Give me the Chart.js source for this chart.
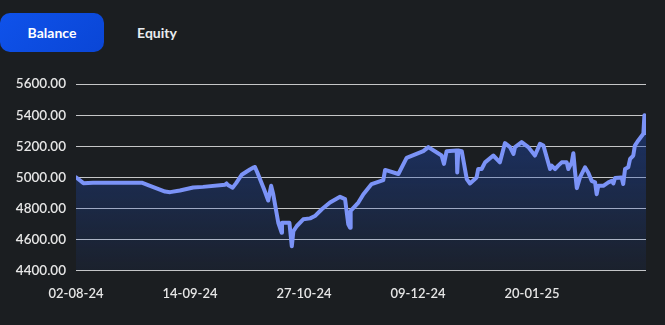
<!DOCTYPE html>
<html>
<head>
<meta charset="utf-8">
<script src="https://cdn.jsdelivr.net/npm/chart.js@4"></script>
<style>
  html, body { margin: 0; padding: 0; background: #1b1e21; width: 665px; height: 325px; overflow: hidden; font-family: Lato, sans-serif; }
  .tabs { position: absolute; left: 0; top: 13px; display: flex; }
  .tab { height: 39px; line-height: 40px; font-size: 14px; font-weight: 700; color: #e9ecef; text-align: center; }
  .tab.active { width: 104px; border-radius: 10px; background: linear-gradient(135deg, #0f52ea, #0a46d6); color: #fff; }
  .tab.plain { width: 106px; }
  #wrap { position: absolute; left: 0; top: 66px; width: 665px; height: 244px; }
</style>
</head>
<body>
<div class="tabs">
  <div class="tab active">Balance</div>
  <div class="tab plain">Equity</div>
</div>
<div id="wrap"><canvas id="balanceChart"></canvas></div>
<script>
// days since 02-08-24 (fractional = several trades in one day)
const days = [
    0, 2.8, 6.4, 24.8, 27.2, 33.6, 35.5, 39.2, 44.2, 47.9,
    56.2, 56.8, 57.3, 59.1, 60.4, 62.5, 65.6, 67.1, 67.5, 68.4,
    70.9, 72.5, 73.6, 74.4, 76.3, 77.6, 77.7, 80.5, 81.4, 82.0,
    83.3, 85.7, 88.3, 90.1, 92.7, 95.8, 99.6, 101.5, 102.7, 103.4,
    103.6, 106.5, 108.4, 111.5, 115.9, 116.6, 121.6, 124.7, 131.0, 132.9,
    137.9, 138.8, 139.8, 143.6, 143.8, 144.2, 145.5, 147.4, 148.6, 151.1,
    151.7, 153.0, 154.3, 157.4, 159.9, 161.8, 163.7, 165.0, 165.6, 168.1,
    170.6, 173.1, 175.0, 176.3, 178.8, 179.4, 180.7, 181.9, 183.2, 185.1,
    185.7, 187.0, 187.6, 188.2, 188.9, 190.1, 192.0, 193.2, 194.5, 195.8,
    196.4, 197.0, 198.9, 200.8, 202.1, 202.7, 203.3, 205.8, 206.4, 207.1,
    208.3, 209.0, 210.2, 210.8, 212.1, 214.0, 214.4, 215.0
];
const balance = [
    5000, 4962, 4965, 4965, 4950, 4908, 4904, 4915, 4934, 4938,
    4951, 4960, 4950, 4933, 4962, 5016, 5050, 5064, 5066, 5031,
    4924, 4850, 4945, 4890, 4707, 4642, 4707, 4707, 4556, 4653,
    4686, 4729, 4735, 4750, 4794, 4837, 4874, 4859, 4697, 4675,
    4783, 4837, 4891, 4956, 4982, 5047, 5021, 5125, 5168, 5194,
    5140, 5086, 5168, 5172, 5031, 5172, 5168, 4988, 4960, 4999,
    5053, 5053, 5096, 5140, 5096, 5220, 5194, 5150, 5194, 5226,
    5194, 5140, 5215, 5204, 5053, 5075, 5053, 5075, 5096, 5096,
    5053, 5096, 5155, 5042, 4930, 4999, 5064, 5031, 4977, 4967,
    4891, 4945, 4945, 4967, 4977, 4960, 4995, 4999, 4956, 5053,
    5064, 5118, 5140, 5204, 5237, 5280, 5400, 5285
];
const tickDays = [0, 43, 86, 129, 172];
const tickLabels = ['02-08-24', '14-09-24', '27-10-24', '09-12-24', '20-01-25'];

function createBalanceChart() {
    const ctx = document.getElementById('balanceChart').getContext('2d');
    const points = days.map((d, i) => ({ x: d, y: balance[i] }));

    new Chart(ctx, {
        type: 'line',
        data: {
            datasets: [{
                label: 'Balance',
                data: points,
                borderColor: '#7b93f7',
                borderWidth: 4,
                borderJoinStyle: 'round',
                borderCapStyle: 'round',
                pointRadius: 0,
                tension: 0,
                fill: 'start',
                backgroundColor: (c) => {
                    const area = c.chart.chartArea;
                    if (!area) return 'rgba(30,75,180,0.4)';
                    const g = c.chart.ctx.createLinearGradient(0, area.top, 0, area.bottom);
                    g.addColorStop(0, 'rgba(30,75,185,0.55)');
                    g.addColorStop(1, 'rgba(30,75,185,0.08)');
                    return g;
                }
            }]
        },
        options: {
            responsive: true,
            maintainAspectRatio: false,
            animation: false,
            layout: { padding: { left: 12, right: 19, top: 0, bottom: 0 } },
            plugins: {
                legend: { display: false },
                tooltip: { enabled: false }
            },
            scales: {
                x: {
                    type: 'linear',
                    min: 0,
                    max: 215,
                    afterBuildTicks: (axis) => {
                        axis.ticks = tickDays.map(v => ({ value: v }));
                    },
                    grid: { display: false },
                    border: { display: false },
                    ticks: {
                        autoSkip: false,
                        maxRotation: 0,
                        padding: 8,
                        color: '#e6e6e6',
                        font: { family: 'Lato', size: 13, weight: '600' },
                        callback: (v, i) => tickLabels[i]
                    }
                },
                y: {
                    min: 4400,
                    max: 5600,
                    afterFit: (axis) => { axis.width = 64; },
                    grid: { color: 'rgba(255,255,255,0.75)', lineWidth: 1, drawTicks: false },
                    border: { display: false },
                    ticks: {
                        stepSize: 200,
                        padding: 10,
                        color: '#e6e6e6',
                        font: { family: 'Lato', size: 13.5, weight: '600' },
                        callback: (v) => v.toFixed(2)
                    }
                }
            }
        }
    });
}

document.addEventListener('DOMContentLoaded', () => {
    createBalanceChart();
});
</script>
</body>
</html>
